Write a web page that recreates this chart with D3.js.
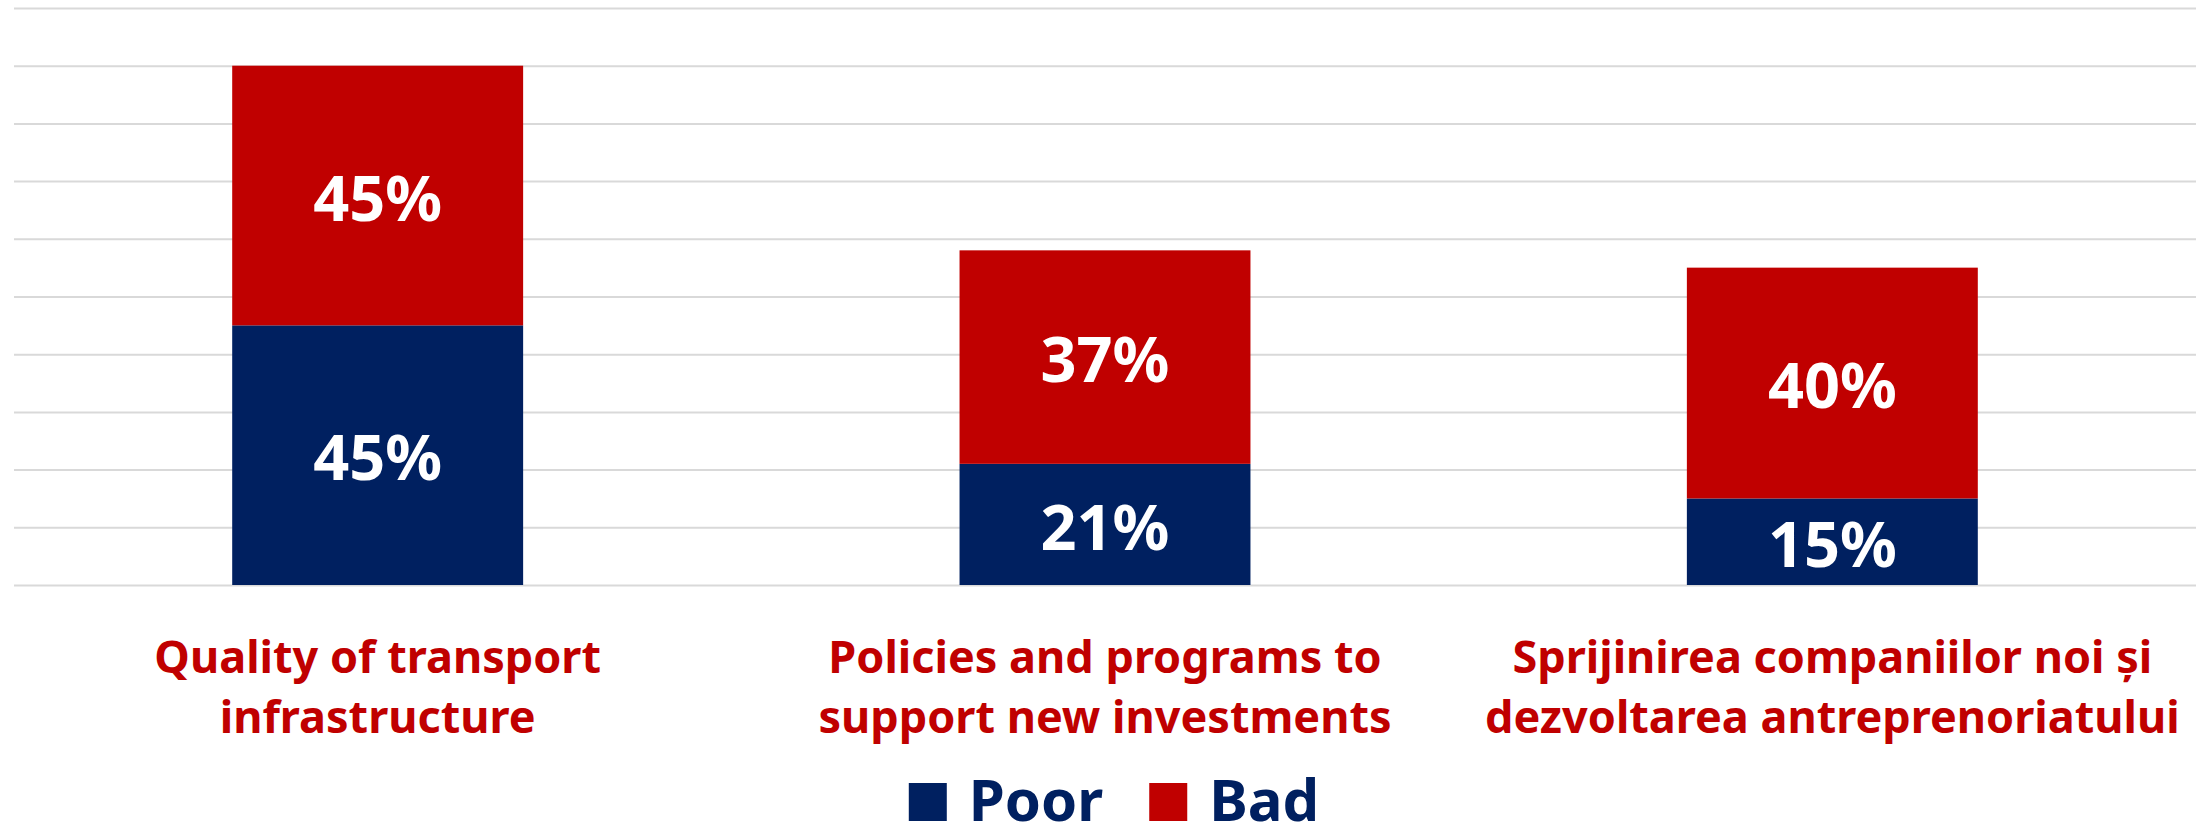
<!DOCTYPE html>
<html>
<head>
<meta charset="utf-8">
<script src="https://cdn.jsdelivr.net/npm/d3@7"></script>
<style>
  html, body { margin: 0; padding: 0; background: #ffffff; }
  svg { display: block; }
  text { font-family: "Noto Sans", "Open Sans", sans-serif; font-weight: 700; }
</style>
</head>
<body>
<svg id="chart" width="2204" height="838"></svg>
<script>
// Category labels (each entry is one wrapped line)
const categories = [
  ["Quality of transport", "infrastructure"],
  ["Policies and programs to", "support new investments"],
  ["Sprijinirea companiilor noi și", "dezvoltarea antreprenoriatului"]
];
const categoryKeys = ["transport", "policies", "startups"];

// Share of respondents (%) per rating
const poorValues = [45, 21, 15];
const badValues  = [45, 37, 40];

const seriesNames  = ["Poor", "Bad"];
const seriesColors = ["#002060", "#C00000"];

// Gridline values (%)
const gridTicks = [0, 10, 20, 30, 40, 50, 60, 70, 80, 90, 100];

const plot = { left: 14, right: 2196, top: 8, bottom: 585 };

const svg = d3.select("#chart");

const x = d3.scaleBand()
  .domain(categoryKeys)
  .range([plot.left, plot.right])
  .paddingInner(0.6)
  .paddingOuter(0.3);

const y = d3.scaleLinear()
  .domain([0, 100])
  .range([plot.bottom, plot.top]);

// Horizontal gridlines
const yAxis = d3.axisLeft(y)
  .tickValues(gridTicks)
  .tickSize(-(plot.right - plot.left))
  .tickFormat("");
const gAxis = svg.append("g")
  .attr("transform", `translate(${plot.left},0)`)
  .call(yAxis);
gAxis.select(".domain").remove();
gAxis.selectAll(".tick line")
  .attr("stroke", "#d9d9d9")
  .attr("stroke-width", 2);

// Stacked data
const rows = categoryKeys.map((k, i) => ({ key: k, Poor: poorValues[i], Bad: badValues[i] }));
const stack = d3.stack().keys(seriesNames);
const layers = stack(rows);

const color = d3.scaleOrdinal().domain(seriesNames).range(seriesColors);

const gLayers = svg.append("g")
  .selectAll("g")
  .data(layers)
  .join("g")
  .attr("fill", d => color(d.key));

gLayers.selectAll("rect")
  .data(d => d)
  .join("rect")
  .attr("x", d => x(d.data.key))
  .attr("width", x.bandwidth())
  .attr("y", d => y(d[1]))
  .attr("height", d => y(d[0]) - y(d[1]));

// Value labels centred in each segment
gLayers.selectAll("text")
  .data(d => d.map(s => ({ s, key: d.key })))
  .join("text")
  .attr("x", d => x(d.s.data.key) + x.bandwidth() / 2)
  .attr("y", d => (y(d.s[0]) + y(d.s[1])) / 2)
  .attr("dy", "0.4em")
  .attr("text-anchor", "middle")
  .attr("fill", "#ffffff")
  .attr("font-size", 63)
  .text(d => d.s.data[d.key] + "%");

// Category labels
const labelLines = [673, 733];
svg.append("g")
  .selectAll("text")
  .data(categoryKeys.map((k, i) => ({ k, lines: categories[i] })))
  .join("text")
  .attr("text-anchor", "middle")
  .attr("fill", "#C00000")
  .attr("font-size", 45)
  .each(function(d) {
    const t = d3.select(this);
    d.lines.forEach((line, j) => {
      t.append("tspan")
        .attr("x", x(d.k) + x.bandwidth() / 2)
        .attr("y", labelLines[j])
        .text(line);
    });
  });

// Legend
const legendSize = 38, legendGap = 22, legendSpacing = 46, legendBase = 821;
const gLegend = svg.append("g");
const items = gLegend.selectAll("g")
  .data(seriesNames)
  .join("g");
items.append("rect")
  .attr("width", legendSize)
  .attr("height", legendSize)
  .attr("y", legendBase - legendSize)
  .attr("fill", d => color(d));
items.append("text")
  .attr("x", legendSize + legendGap)
  .attr("y", legendBase)
  .attr("fill", "#002060")
  .attr("font-size", 58)
  .text(d => d);

let offset = 0;
items.each(function() {
  const g = d3.select(this);
  g.attr("transform", `translate(${offset},0)`);
  const tw = g.select("text").node().getComputedTextLength();
  offset += legendSize + legendGap + tw + legendSpacing;
});
const legendWidth = offset - legendSpacing;
gLegend.attr("transform", `translate(${1114 - legendWidth / 2},0)`);
</script>
</body>
</html>
